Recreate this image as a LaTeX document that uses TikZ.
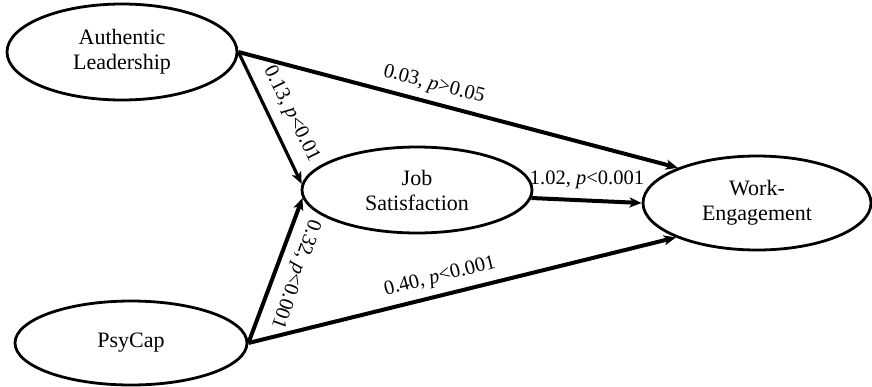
\documentclass[tikz,border=0pt]{standalone}
\usepackage{fontspec}
\setmainfont{Liberation Serif}
\usetikzlibrary{shapes.geometric,arrows.meta}
\begin{document}
\begin{tikzpicture}[x=1pt,y=-1pt,
  var/.style={ellipse, draw, line width=2.8pt, inner sep=0pt, align=center,
    font=\fontsize{22}{25}\selectfont},
  conn/.style={line width=4pt, -{Stealth[length=12pt,width=10pt,inset=3pt]}},
  lab/.style={font=\fontsize{20.5}{22}\selectfont, inner sep=0pt}]
\useasboundingbox (0,0) rectangle (872,386);
\node[var, minimum width=230pt, minimum height=96pt] (AL) at (122,52) {Authentic\\Leadership};
\node[var, minimum width=230pt, minimum height=86pt] (JS) at (417,190) {Job\\Satisfaction};
\node[var, minimum width=228pt, minimum height=94pt] (WE) at (757,203) {Work-\\Engagement};
\node[var, minimum width=232pt, minimum height=84pt] (PC) at (131,343) {PsyCap};

\draw[conn] (AL.0) -- (WE.156);
\draw[conn, line width=3.2pt] (AL.0) -- (JS.177);
\draw[conn] (PC.0) -- (JS.184);
\draw[conn] (PC.0) -- (WE.203);
\draw[conn] (JS.-4) -- (WE.180);

\node[lab, rotate=-14.6] (l1) at (434,85) {0.03, \textit{p}>0.05};
\node[lab, rotate=-63.6] (l2) at (291,114) {0.13, \textit{p}<0.01};
\node[lab, rotate=-109.5] (l3) at (295,274) {0.32, \textit{p}<0.001};
\node[lab, rotate=14.1] (l4) at (440,277) {0.40, \textit{p}<0.001};
\node[lab] (l5) at (587,180) {1.02, \textit{p}<0.001};
\end{tikzpicture}
\end{document}
